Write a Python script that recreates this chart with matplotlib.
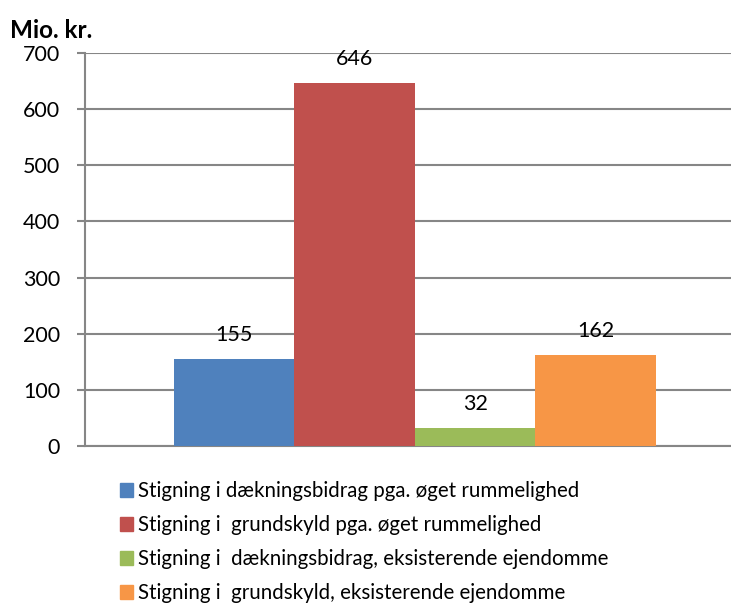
import numpy as np
import matplotlib.pyplot as plt
from matplotlib.patches import Patch

serier = ['Stigning i dækningsbidrag pga. øget rummelighed',
          'Stigning i  grundskyld pga. øget rummelighed',
          'Stigning i  dækningsbidrag, eksisterende ejendomme',
          'Stigning i  grundskyld, eksisterende ejendomme']
vaerdier = [155, 646, 32, 162]
farver = ['#4f81bd', '#c0504d', '#9bbb59', '#f79646']
yticks = [0, 100, 200, 300, 400, 500, 600, 700]

plt.rcParams['font.family'] = ['Lato', 'DejaVu Sans']

fig = plt.figure(figsize=(7.31, 6.06), dpi=100)
ax = fig.add_axes([85 / 731, 160 / 606, 1 - 85 / 731, 393 / 606])

index = np.arange(len(vaerdier))
bars = ax.bar(index, vaerdier, width=1.0, color=farver, zorder=3)

for b, v in zip(bars, vaerdier):
    ax.annotate(str(v), (b.get_x() + b.get_width() / 2, v), xytext=(0, 10),
                textcoords='offset points', ha='center', va='bottom', fontsize=15.5)

ax.set_xlim(-1.237, 4.124)
ax.set_ylim(0, 700)
ax.set_yticks(yticks)
ax.tick_params(axis='y', labelsize=15.5, length=6, width=1.5, color='#868686', pad=12)
ax.set_xticks([])
ax.yaxis.grid(True, color='#868686', linewidth=1.5, zorder=0)
for s in ['top', 'right']:
    ax.spines[s].set_visible(False)
for s in ['left', 'bottom']:
    ax.spines[s].set_color('#868686')
    ax.spines[s].set_linewidth(1.5)

fig.text(10 / 731, 1 - 31 / 606, 'Mio. kr.', fontsize=17.5, fontweight='bold', va='center')

handles = [Patch(color=c) for c in farver]
fig.legend(handles, serier, loc='upper left', bbox_to_anchor=(101 / 731, 1 - 463 / 606),
           frameon=False, fontsize=14.8, handlelength=0.65, handleheight=0.65,
           handletextpad=0.25, labelspacing=0.68)

fig.savefig('out.png', dpi=100)
